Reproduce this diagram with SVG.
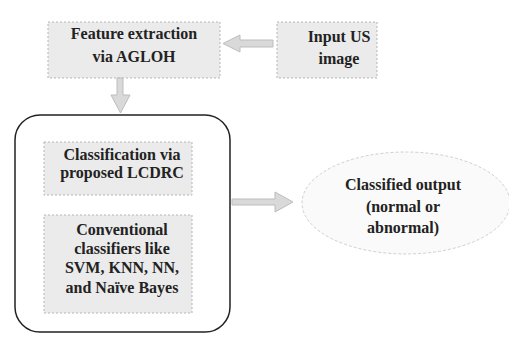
<svg xmlns="http://www.w3.org/2000/svg" width="509" height="338" viewBox="0 0 509 338">
<style>
.box{fill:#ebebeb;stroke:#b5b5b5;stroke-width:1;stroke-dasharray:2 2}
.t{font-weight:bold;font-size:16px;fill:#222;text-anchor:middle}
.arr{fill:#d9d9d9;stroke:#bdbdbd;stroke-width:1}
</style>
<rect width="509" height="338" fill="#ffffff"/>
<g font-family="'Liberation Serif', 'Times New Roman', Times, serif">
<g id="feature">
<rect class="box" x="48" y="22" width="172" height="56"/>
<text class="t" x="134" y="39">Feature extraction</text>
<text class="t" x="134" y="62">via AGLOH</text>
</g>
<g id="input">
<rect class="box" x="277" y="22" width="100" height="56"/>
<text class="t" x="339" y="42">Input US</text>
<text class="t" x="339" y="64">image</text>
</g>
<g id="classifiers-group">
<rect x="15" y="115" width="215" height="217" rx="25" ry="25" fill="#ffffff" stroke="#222" stroke-width="1.5"/>
</g>
<g id="lcdrc">
<rect class="box" x="44" y="142" width="148" height="53"/>
<text class="t" x="122" y="160">Classification via</text>
<text class="t" x="122" y="178">proposed LCDRC</text>
</g>
<g id="conventional">
<rect class="box" x="44" y="215" width="148" height="98"/>
<text class="t" x="122" y="235">Conventional</text>
<text class="t" x="122" y="254">classifiers like</text>
<text class="t" x="122" y="273">SVM, KNN, NN,</text>
<text class="t" x="122" y="293">and Naïve Bayes</text>
</g>
<g id="output">
<ellipse cx="406" cy="203" rx="104" ry="51" fill="#fafafa" stroke="#cfcfcf" stroke-width="1" stroke-dasharray="3 2"/>
<text class="t" x="403" y="190">Classified output</text>
<text class="t" x="403" y="212">(normal or</text>
<text class="t" x="403" y="233">abnormal)</text>
</g>
</g>
<g id="connectors">
<path class="arr" d="M273,40 L240,40 L240,35 L223,43.5 L240,52 L240,47 L273,47 Z"/>
<path class="arr" d="M117,78 L123,78 L123,95 L130,95 L120.5,113 L111,95 L117,95 Z"/>
<path class="arr" d="M232,199 L275,199 L275,192 L293,202 L275,212 L275,205 L232,205 Z"/>
</g>
</svg>
